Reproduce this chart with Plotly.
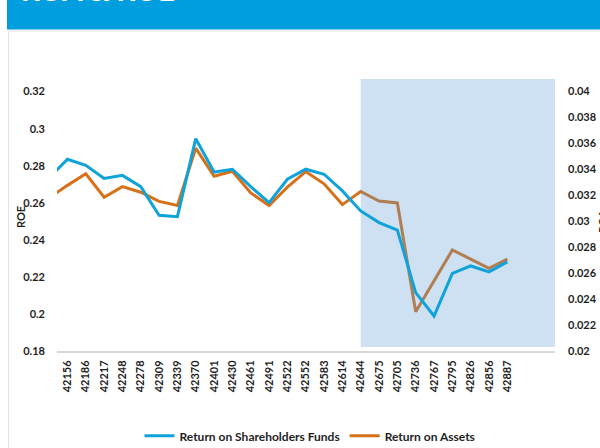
import plotly.graph_objects as go

# ---- data ----
categories = ["42125", "42156", "42186", "42217", "42248", "42278", "42309", "42339",
              "42370", "42401", "42430", "42461", "42491", "42522", "42552", "42583",
              "42614", "42644", "42675", "42705", "42736", "42767", "42795", "42826",
              "42856", "42887"]
roe = [0.2734, 0.2835, 0.2802, 0.2731, 0.2748, 0.2687, 0.2533, 0.2525,
       0.2946, 0.2766, 0.2781, 0.2687, 0.2601, 0.2727, 0.2781, 0.2754,
       0.2664, 0.2556, 0.2493, 0.2452, 0.2115, 0.1989, 0.2219, 0.2259,
       0.2227, 0.2281]
roa = [0.03177, 0.03274, 0.03363, 0.03183, 0.03264, 0.03221, 0.03151, 0.03119,
       0.03560, 0.03344, 0.03383, 0.03216, 0.03119, 0.03260, 0.03380, 0.03286,
       0.03126, 0.03227, 0.03154, 0.03139, 0.02301, 0.02539, 0.02777, 0.02707,
       0.02636, 0.02707]
highlight_start = "42644"
series_names = ["Return on Shareholders Funds", "Return on Assets"]
axis_titles = ["ROE", "ROA"]
title_text = "ROA & ROE"

# ---- styling ----
BLUE = "#0FA3D9"
ORANGE = "#D6711A"
SHADE = "rgba(91,155,213,0.30)"
TXT = "#1e1e1e"
FONT = "Lato"

x = list(range(len(categories)))
x_range = [0.43, 27.6]
roe_range = [0.18, 0.3268]
roa_range = [0.02, 0.04092]

hs = categories.index(highlight_start)

fig = go.Figure()

# orange (ROA) on base axis (right side)
fig.add_trace(go.Scatter(
    x=x, y=roa, name=series_names[1], mode="lines",
    line=dict(color=ORANGE, width=3), yaxis="y", legendrank=2))

# highlight band, drawn above the orange line but below the blue one
fig.add_trace(go.Scatter(
    x=[hs, x_range[1], x_range[1], hs, hs],
    y=[0.0203, 0.0203, roa_range[1], roa_range[1], 0.0203],
    mode="lines", fill="toself", fillcolor=SHADE,
    line=dict(width=0), showlegend=False, hoverinfo="skip", yaxis="y"))

# blue (ROE) on overlaying axis (left side)
fig.add_trace(go.Scatter(
    x=x, y=roe, name=series_names[0], mode="lines",
    line=dict(color=BLUE, width=3), yaxis="y2", legendrank=1))

tickfont = dict(family=FONT, size=11, color=TXT, weight="bold")
titlefont = dict(family=FONT, size=11, color=TXT, weight="bold")

W, H = 600, 448
l, r, t, b = 57, 45, 79, 97

fig.update_layout(
    width=W, height=H,
    margin=dict(l=l, r=r, t=t, b=b, autoexpand=False),
    paper_bgcolor="white", plot_bgcolor="white",
    showlegend=True,
    legend=dict(orientation="h", x=0.508, xanchor="center", y=-0.312, yanchor="middle",
                font=dict(family=FONT, size=12, color=TXT, weight="bold"),
                itemwidth=30, bgcolor="rgba(0,0,0,0)"),
    xaxis=dict(range=x_range, tickmode="array", tickvals=x, ticktext=categories,
               tickangle=-90, tickfont=tickfont, showgrid=False, zeroline=False,
               showline=True, linecolor="#d9d9d9", linewidth=2, ticks="",
               ticklabelstandoff=3, automargin=False),
    yaxis=dict(range=roa_range, side="right", tick0=0.02, dtick=0.002,
               tickfont=tickfont, showgrid=False, zeroline=False, showline=False,
               ticks="", ticklabelstandoff=12, automargin=False),
    yaxis2=dict(range=roe_range, overlaying="y", side="left", tick0=0.18, dtick=0.02,
                tickfont=tickfont, showgrid=False, zeroline=False, showline=False,
                ticks="", ticklabelstandoff=11, automargin=False),
)

pw, ph = W - l - r, H - t - b
def px(xp):
    return (xp - l) / pw
def py(yp):
    return (H - b - yp) / ph

# header bar and panel border (paper coordinates)
fig.add_shape(type="rect", xref="paper", yref="paper",
              x0=px(7), x1=px(605), y0=py(29.5), y1=py(-5),
              fillcolor="#009EDE", line=dict(width=0), layer="below")
fig.add_shape(type="rect", xref="paper", yref="paper",
              x0=px(8.5), x1=px(610), y0=py(460), y1=py(31),
              fillcolor="rgba(0,0,0,0)", line=dict(color="#e3e3e3", width=1), layer="below")

fig.add_annotation(text=title_text, xref="paper", yref="paper",
                   x=px(19), xanchor="left", y=py(9), yanchor="bottom",
                   showarrow=False,
                   font=dict(family=FONT, size=29, color="white", weight="bold"))

# axis titles
fig.add_annotation(text=axis_titles[0], xref="paper", yref="paper",
                   x=px(20), xanchor="center", y=py(217), yanchor="middle",
                   textangle=-90, showarrow=False, font=titlefont)
fig.add_annotation(text=axis_titles[1], xref="paper", yref="paper",
                   x=px(603), xanchor="center", y=py(221), yanchor="middle",
                   textangle=-90, showarrow=False, font=titlefont)

fig.write_html("out.html", post_script="document.body.style.margin='0';",
               config={"displayModeBar": False})
